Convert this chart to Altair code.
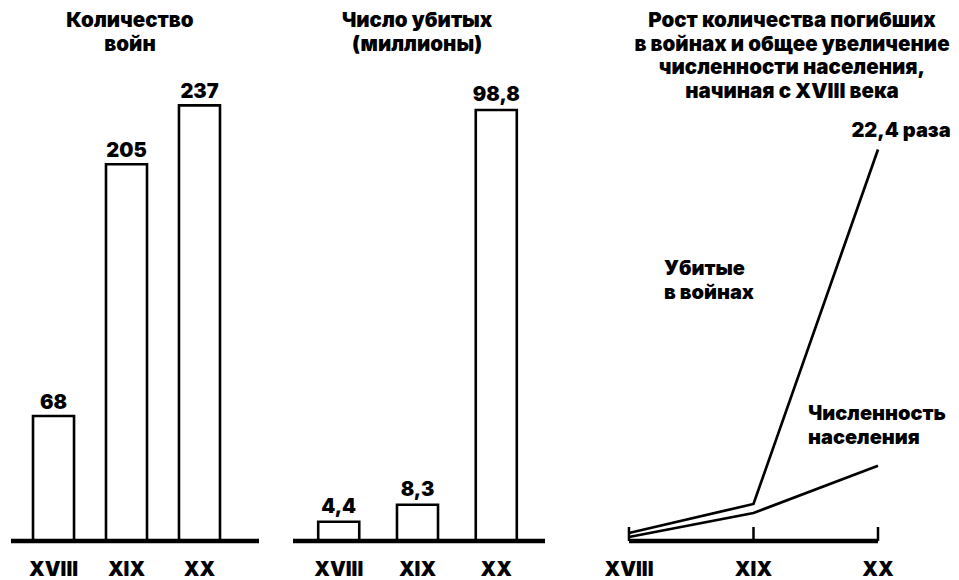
import altair as alt
import pandas as pd

# ---- data ----
centuries = ["XVIII", "XIX", "XX"]
century_num = [18, 19, 20]

wars_count = [68, 205, 237]
wars_labels = ["68", "205", "237"]

killed_mln = [4.4, 8.3, 98.8]
killed_labels = ["4,4", "8,3", "98,8"]

# relative growth index
killed_growth = [0.46, 2.12, 22.4]
population_growth = [0.23, 1.6, 4.3]
series_names = ["Убитые\nв войнах", "Численность\nнаселения"]
killed_note = "22,4 раза"

title1 = "Количество\nвойн"
title2 = "Число убитых\n(миллионы)"
title3 = "Рост количества погибших\nв войнах и общее увеличение\nчисленности населения,\nначиная с XVIII века"

# ---- styling ----
FONT = "Inter"
WEIGHT = 900
H = 533
LBL = 20
TTL = 20.5

one = pd.DataFrame({"k": [0]})


def txt(**kw):
    base = dict(font=FONT, fontWeight=WEIGHT, color="black", fontSize=LBL)
    base.update(kw)
    return base


# ---- panel 1 ----
df1 = pd.DataFrame({"century": centuries, "value": wars_count, "label": wars_labels})
x1 = alt.X("century:N", sort=centuries, axis=None,
           scale=alt.Scale(paddingInner=0.438, paddingOuter=0.329))
y1 = alt.Y("value:Q", axis=None, scale=alt.Scale(domain=[0, 290], nice=False))

p1 = alt.layer(
    alt.Chart(df1).mark_bar(fill="white", stroke="black", strokeWidth=2.6).encode(x=x1, y=y1),
    alt.Chart(df1).mark_text(**txt(baseline="alphabetic", dy=-7)).encode(x=x1, y=y1, text="label:N"),
    alt.Chart(df1).mark_text(**txt(baseline="alphabetic")).encode(x=x1, y=alt.value(H + 35), text="century:N"),
    alt.Chart(one).mark_rule(color="black", strokeWidth=4.5).encode(
        x=alt.value(2), x2=alt.value(250), y=alt.value(H)),
    alt.Chart(one).mark_text(**txt(fontSize=TTL, baseline="alphabetic", lineBreak="\n", lineHeight=24)).encode(
        x=alt.value(121), y=alt.value(19), text=alt.value(title1)),
).properties(width=235, height=H)

# ---- panel 2 ----
df2 = pd.DataFrame({"century": centuries, "value": killed_mln, "label": killed_labels})
x2 = alt.X("century:N", sort=centuries, axis=None,
           scale=alt.Scale(paddingInner=0.479, paddingOuter=0.32))
y2 = alt.Y("value:Q", axis=None, scale=alt.Scale(domain=[0, 122.2], nice=False))

p2 = alt.layer(
    alt.Chart(df2).mark_bar(fill="white", stroke="black", strokeWidth=2.6).encode(x=x2, y=y2),
    alt.Chart(df2).mark_text(**txt(baseline="alphabetic", dy=-9)).encode(x=x2, y=y2, text="label:N"),
    alt.Chart(df2).mark_text(**txt(baseline="alphabetic")).encode(x=x2, y=alt.value(H + 35), text="century:N"),
    alt.Chart(one).mark_rule(color="black", strokeWidth=4.5).encode(
        x=alt.value(0), x2=alt.value(252), y=alt.value(H)),
    alt.Chart(one).mark_text(**txt(fontSize=TTL, baseline="alphabetic", lineBreak="\n", lineHeight=24)).encode(
        x=alt.value(124), y=alt.value(19), text=alt.value(title2)),
).properties(width=249, height=H)

# ---- panel 3 ----
df3 = pd.DataFrame({
    "num": century_num * 2,
    "value": killed_growth + population_growth,
    "series": [series_names[0]] * 3 + [series_names[1]] * 3,
})
dfc = pd.DataFrame({"century": centuries, "num": century_num})
dfn = pd.DataFrame({"num": [century_num[-1]], "value": [killed_growth[-1]], "label": [killed_note]})

xscale3 = alt.Scale(domain=[17.695, 20], nice=False, zero=False)
x3 = alt.X("num:Q", axis=None, scale=xscale3)
y3 = alt.Y("value:Q", axis=None, scale=alt.Scale(domain=[0, 30.5], nice=False))

p3 = alt.layer(
    alt.Chart(dfc).transform_aggregate(lo="min(num)", hi="max(num)").mark_rule(
        color="black", strokeWidth=4.5).encode(
        x=alt.X("lo:Q", axis=None, scale=xscale3), x2="hi:Q", y=alt.value(H)),
    alt.Chart(dfc).mark_rule(color="black", strokeWidth=2.5).encode(
        x=x3, y=alt.value(H), y2=alt.value(H - 14)),
    alt.Chart(df3).mark_line(color="black", strokeWidth=2.7).encode(x=x3, y=y3, detail="series:N"),
    alt.Chart(dfc).mark_text(**txt(baseline="alphabetic")).encode(x=x3, y=alt.value(H + 35), text="century:N"),
    alt.Chart(dfn).mark_text(**txt(baseline="alphabetic", dx=23, dy=-13)).encode(x=x3, y=y3, text="label:N"),
    alt.Chart(one).mark_text(**txt(align="left", baseline="alphabetic", lineBreak="\n", lineHeight=24)).encode(
        x=alt.value(73), y=alt.value(267), text=alt.value(series_names[0])),
    alt.Chart(one).mark_text(**txt(align="left", baseline="alphabetic", lineBreak="\n", lineHeight=24)).encode(
        x=alt.value(217), y=alt.value(412), text=alt.value(series_names[1])),
    alt.Chart(one).mark_text(**txt(fontSize=TTL, baseline="alphabetic", lineBreak="\n", lineHeight=23.5)).encode(
        x=alt.value(201), y=alt.value(19), text=alt.value(title3)),
).properties(width=287, height=H)

chart = alt.hconcat(p1, p2, p3, spacing=49, bounds="flush").properties(
    padding=0, background="white"
).configure_view(stroke=None, strokeWidth=0)

chart.save("out.html", embed_options={"renderer": "svg", "actions": False})
